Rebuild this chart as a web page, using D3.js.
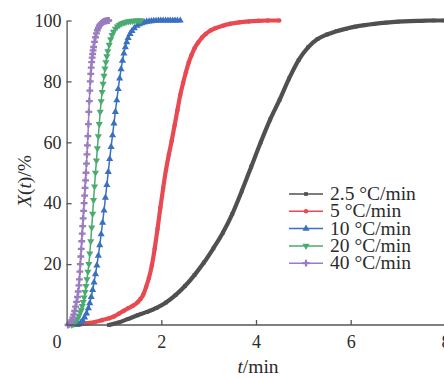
<!DOCTYPE html>
<html>
<head>
<meta charset="utf-8">
<script src="https://cdn.jsdelivr.net/npm/d3@7"></script>
<style>
  body { margin: 0; background: #fff; }
  svg text { font-family: "Liberation Serif", "DejaVu Serif", "Noto Serif", serif; fill: #2b2b2b; }
  .axis path, .axis line { stroke: #555; stroke-width: 1.3; }
</style>
</head>
<body>
<div id="viz"></div>
<script>
// series names (legend order)
const seriesNames = ["2.5 °C/min", "5 °C/min", "10 °C/min", "20 °C/min", "40 °C/min"];

// [t (min), X(t) (%)]
const s2_5 = [[0.89,0],[1.10,0.8],[1.30,2.0],[1.50,3.2],[1.70,4.3],[1.90,5.6],[2.10,7.4],[2.30,9.8],[2.50,12.8],
  [2.70,16.4],[2.90,20.5],[3.10,25.2],[3.30,30.3],[3.50,36.5],[3.70,44],[3.90,52],[4.10,60],[4.30,67.5],[4.50,74],
  [4.70,81],[4.90,87],[5.10,91.2],[5.30,93.9],[5.50,95.4],[5.70,96.5],[5.90,97.3],[6.10,98],[6.30,98.5],[6.50,98.9],
  [6.75,99.3],[7.00,99.6],[7.25,99.8],[7.50,99.9],[7.75,100],[7.97,100]];

const s5 = [[0.18,0],[0.30,0.3],[0.45,0.6],[0.60,1.0],[0.75,1.6],[0.90,2.2],[1.00,2.8],[1.10,3.7],[1.20,4.6],[1.30,5.5],
  [1.40,6.3],[1.50,7.5],[1.56,8.5],[1.62,10],[1.68,12.5],[1.74,15.5],[1.80,19.5],[1.86,25],[1.92,31.5],[1.98,38.5],
  [2.04,45],[2.10,51],[2.16,56],[2.22,60.5],[2.28,65.5],[2.34,70.5],[2.40,75.5],[2.46,79.5],[2.52,83],[2.58,86.2],
  [2.64,88.7],[2.70,90.8],[2.78,92.8],[2.86,94.4],[2.94,95.6],[3.04,96.7],[3.15,97.5],[3.30,98.3],[3.45,98.9],
  [3.65,99.4],[3.85,99.7],[4.05,99.9],[4.25,100],[4.49,100]];

const s10 = [[0.22,0],[0.26,0.3],[0.30,0.8],[0.34,1.5],[0.38,2.5],[0.42,3.8],[0.46,5.5],[0.49,7.2],[0.52,9.2],[0.55,11.5],
  [0.58,14.0],[0.61,16.7],[0.64,19.6],[0.67,22.8],[0.70,26.2],[0.73,29.8],[0.76,33.6],[0.79,37.6],[0.82,41.8],[0.85,46.0],
  [0.88,50.3],[0.91,54.5],[0.94,58.5],[0.97,62.3],[1.00,66.2],[1.03,70.0],[1.06,73.8],[1.09,77.5],[1.12,81.0],[1.15,84.0],
  [1.18,86.8],[1.21,89.2],[1.24,91.2],[1.27,92.9],[1.30,94.3],[1.34,95.6],[1.38,96.6],[1.43,97.5],[1.49,98.3],[1.54,98.8],
  [1.59,99.1],[1.64,99.4],[1.69,99.6],[1.74,99.7],[1.79,99.8],[1.84,99.9],[1.89,99.9],[1.94,100],[1.99,100],[2.04,100],
  [2.09,100],[2.14,100],[2.19,100],[2.24,100],[2.29,100],[2.34,100],[2.40,100]];

const s20 = [[0.11,0],[0.14,0.3],[0.17,0.7],[0.20,1.2],[0.23,2.0],[0.26,3.0],[0.29,4.2],[0.31,5.0],[0.33,6.2],[0.35,7.5],
  [0.37,9.0],[0.39,10.8],[0.41,12.8],[0.43,15],[0.45,17.5],[0.47,20],[0.49,23.5],[0.51,27.5],[0.53,32],[0.55,36.5],
  [0.57,41],[0.59,45.5],[0.61,50],[0.63,54],[0.65,58],[0.67,62],[0.69,66],[0.71,70],[0.73,73.5],[0.75,76.5],[0.77,79.2],
  [0.79,81.8],[0.81,84.2],[0.83,86.3],[0.85,88.2],[0.87,89.9],[0.90,92],[0.93,93.8],[0.96,95.2],[0.99,96.3],[1.03,97.3],
  [1.07,98.0],[1.11,98.5],[1.15,98.9],[1.19,99.2],[1.23,99.4],[1.27,99.6],[1.31,99.7],[1.35,99.8],[1.39,99.9],[1.43,99.9],
  [1.47,100],[1.51,100],[1.55,100],[1.57,100]];

const s40 = [[0.03,0],[0.05,0.2],[0.07,0.5],[0.09,1.0],[0.11,1.6],[0.13,2.4],[0.15,3.4],[0.17,4.6],[0.19,6.0],[0.21,7.6],
  [0.23,9.2],[0.245,11],[0.26,13],[0.27,15],[0.28,17.5],[0.29,20],[0.30,22.5],[0.31,25],[0.32,27.5],[0.33,30],[0.34,32.5],
  [0.35,35],[0.36,37.5],[0.37,40],[0.38,42.5],[0.39,45],[0.40,47.5],[0.41,50],[0.42,53],[0.43,56],[0.44,59],[0.45,62],
  [0.46,66],[0.47,70],[0.48,73.5],[0.49,77],[0.50,80],[0.51,82.5],[0.52,84.5],[0.53,86.3],[0.54,87.8],[0.55,89],
  [0.56,90.2],[0.57,91.3],[0.59,93],[0.61,94.5],[0.63,95.8],[0.65,96.8],[0.67,97.6],[0.69,98.3],[0.71,98.7],[0.73,99.0],
  [0.75,99.3],[0.77,99.5],[0.79,99.7],[0.81,99.8],[0.83,99.9],[0.85,99.9],[0.87,100],[0.89,100]];

const seriesData = [s2_5, s5, s10, s20, s40];
const xTicks = [0, 2, 4, 6, 8];
const yTicks = [20, 40, 60, 80, 100];

// styles per series
const STYLE = [
  { color: "#505050", symbol: d3.symbolSquare,   size: 14, lineW: 4.2 },
  { color: "#e84a52", symbol: d3.symbolCircle,   size: 16, lineW: 4.2 },
  { color: "#3a70c0", symbol: d3.symbolTriangle, size: 22, lineW: 1.5 },
  { color: "#4aab70", symbol: d3.symbolTriangle, size: 22, lineW: 1.5, rot: 180 },
  { color: "#9a7cc0", symbol: d3.symbolCross,    size: 26, lineW: 1.5 }
];
const FONT = "'Liberation Serif', 'DejaVu Serif', 'Noto Serif', serif";

const W = 444, H = 378;
const svg = d3.select("#viz").append("svg").attr("width", W).attr("height", H);

const x = d3.scaleLinear().domain([0, 8]).range([66.6, 445.4]);
const y = d3.scaleLinear().domain([0, 100]).range([325, 20.5]);

// curves
const line = d3.line().x(d => x(d[0])).y(d => y(d[1])).curve(d3.curveMonotoneX);
const plot = svg.append("g");
seriesData.forEach((data, i) => {
  const st = STYLE[i];
  const g = plot.append("g");
  g.append("path").attr("d", line(data))
    .attr("fill", "none").attr("stroke", st.color).attr("stroke-width", st.lineW)
    .attr("stroke-linejoin", "round");
  g.selectAll("path.m").data(data).join("path").attr("class", "m")
    .attr("d", d3.symbol(st.symbol, st.size))
    .attr("transform", d => `translate(${x(d[0])},${y(d[1])}) rotate(${st.rot || 0})`)
    .attr("fill", st.color);
});

// axes
const yAxis = svg.append("g").attr("class", "axis")
  .attr("transform", `translate(${x(0)},0)`)
  .call(d3.axisLeft(y).tickValues(yTicks).tickSizeInner(-5).tickSizeOuter(0).tickPadding(5));
const xAxis = svg.append("g").attr("class", "axis")
  .attr("transform", `translate(0,${y(0)})`)
  .call(d3.axisBottom(x).tickValues(xTicks).tickSizeInner(-5).tickSizeOuter(0).tickPadding(10));
xAxis.select(".domain").attr("d", `M${x(0)},0H${W + 2}`);
[yAxis, xAxis].forEach(a => {
  a.attr("font-family", FONT).attr("font-size", 18);
  a.selectAll("text").attr("fill", "#2b2b2b");
});
xAxis.selectAll(".tick").filter(d => d === 0).select("line").remove();
xAxis.selectAll(".tick").filter(d => d === 0).select("text").attr("dx", -10);

// axis titles
svg.append("text").attr("x", 258).attr("y", 373).attr("text-anchor", "middle")
  .attr("font-family", FONT).attr("font-size", 19.5)
  .html('<tspan font-style="italic">t</tspan>/min');
svg.append("text").attr("transform", "translate(31,181) rotate(-90)").attr("text-anchor", "middle")
  .attr("font-family", FONT).attr("font-size", 19.5)
  .html('<tspan font-style="italic">X</tspan>(<tspan font-style="italic">t</tspan>)/%');

// legend
const legend = svg.append("g").attr("transform", "translate(289,194)");
seriesNames.forEach((name, i) => {
  const st = STYLE[i];
  const row = legend.append("g").attr("transform", `translate(0,${i * 17.3})`);
  row.append("line").attr("x1", 0).attr("x2", 34).attr("y1", 0).attr("y2", 0)
    .attr("stroke", st.color).attr("stroke-width", 1.5);
  row.append("path").attr("d", d3.symbol(st.symbol, st.size)())
    .attr("transform", `translate(17,0) rotate(${st.rot || 0})`).attr("fill", st.color);
  row.append("text").attr("x", 41).attr("y", 6)
    .attr("font-family", FONT).attr("font-size", 19.5).text(name);
});
</script>
</body>
</html>
